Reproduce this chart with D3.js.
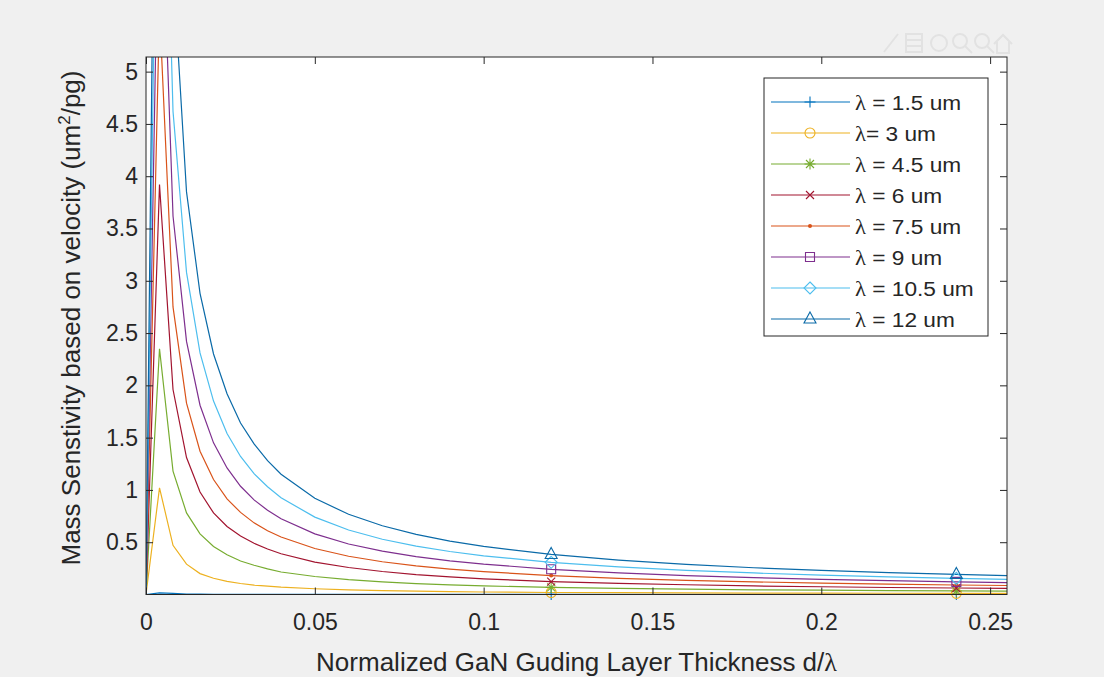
<!DOCTYPE html>
<html>
<head>
<meta charset="utf-8">
<script src="https://cdn.jsdelivr.net/npm/d3@7"></script>
<style>
  body { margin: 0; background: #f0f0f0; }
  svg { display: block; font-family: "Liberation Sans", Arial, sans-serif; }
</style>
</head>
<body>
<svg id="vis-sens" width="1104" height="677"></svg>
<script>

// normalized thickness d/lambda (x)
const thickness = [0, 0.004, 0.008, 0.012, 0.016, 0.02, 0.024, 0.028, 0.032, 0.036, 0.04,
                   0.05, 0.06, 0.07, 0.08, 0.09, 0.1, 0.12, 0.14, 0.16, 0.18, 0.2, 0.22, 0.24, 0.255];

// mass sensitivity (um^2/pg)
const sens_1_5  = [0, 0.015, 0.010, 0.004, 0.003, 0.002, 0.002, 0.002, 0.002, 0.001, 0.001,
                   0.001, 0.001, 0.001, 0.001, 0.001, 0.001, 0.001, 0.001, 0.001, 0.001, 0.001, 0.001, 0.001, 0.001];
const sens_3    = [0, 1.02, 0.47, 0.29, 0.20, 0.155, 0.125, 0.105, 0.09, 0.08, 0.07,
                   0.055, 0.045, 0.038, 0.032, 0.028, 0.024, 0.019, 0.017, 0.015, 0.014, 0.013, 0.012, 0.011, 0.011];
const sens_4_5  = [0, 2.35, 1.18, 0.78, 0.58, 0.46, 0.38, 0.32, 0.28, 0.245, 0.215,
                   0.172, 0.142, 0.12, 0.104, 0.092, 0.082, 0.068, 0.058, 0.051, 0.045, 0.041, 0.037, 0.034, 0.032];
const sens_6    = [0, 3.92, 1.96, 1.31, 0.98, 0.78, 0.65, 0.56, 0.49, 0.435, 0.39,
                   0.31, 0.258, 0.22, 0.19, 0.168, 0.15, 0.124, 0.106, 0.093, 0.082, 0.074, 0.067, 0.062, 0.058];
const sens_7_5  = [0, 5.6, 2.75, 1.83, 1.37, 1.1, 0.915, 0.785, 0.685, 0.61, 0.55,
                   0.44, 0.366, 0.313, 0.274, 0.243, 0.218, 0.181, 0.155, 0.136, 0.121, 0.109, 0.099, 0.091, 0.086];
const sens_9    = [0, 7.3, 3.62, 2.42, 1.81, 1.45, 1.21, 1.035, 0.905, 0.805, 0.725,
                   0.58, 0.483, 0.414, 0.362, 0.322, 0.29, 0.241, 0.207, 0.181, 0.161, 0.145, 0.132, 0.121, 0.114];
const sens_10_5 = [0, 9.2, 4.62, 3.08, 2.31, 1.85, 1.54, 1.32, 1.155, 1.03, 0.925,
                   0.74, 0.617, 0.528, 0.462, 0.411, 0.37, 0.308, 0.264, 0.231, 0.206, 0.185, 0.168, 0.154, 0.145];
const sens_12   = [0, 11.5, 6.0, 3.85, 2.88, 2.3, 1.92, 1.64, 1.44, 1.28, 1.15,
                   0.92, 0.767, 0.657, 0.575, 0.511, 0.46, 0.383, 0.329, 0.288, 0.256, 0.23, 0.209, 0.192, 0.18];

const series = [sens_1_5, sens_3, sens_4_5, sens_6, sens_7_5, sens_9, sens_10_5, sens_12];

// legend text after the lambda glyph
const legendText = [' = 1.5 um', '= 3 um', ' = 4.5 um', ' = 6 um', ' = 7.5 um', ' = 9 um', ' = 10.5 um', ' = 12 um'];

const markerThickness = [0.12, 0.24];

const xTickValues = [0, 0.05, 0.1, 0.15, 0.2, 0.25];
const yTickValues = [0.5, 1, 1.5, 2, 2.5, 3, 3.5, 4, 4.5, 5];

const lineColors = ['#0072BD', '#EDB120', '#77AC30', '#A2142F', '#D95319', '#7E2F8E', '#4DBEEE', '#0a6aa8'];
const lineSymbols = ['plus', 'circle', 'star', 'cross', 'dot', 'square', 'diamond', 'triangle'];

const sens = {

    dims : {
        left : 146,
        right : 1007,
        top : 57,
        bottom : 594.5,
        ink : '#262626'
    },

    scales : {
        x : null,
        y : null
    },

    symbolPath : function(type, x, y) {
        const r = 5.5, q = 4;
        switch (type) {
            case 'plus':
                return `M${x - r},${y}H${x + r}M${x},${y - r}V${y + r}`;
            case 'cross':
                return `M${x - q},${y - q}L${x + q},${y + q}M${x - q},${y + q}L${x + q},${y - q}`;
            case 'star':
                return `M${x - r},${y}H${x + r}M${x},${y - r}V${y + r}` +
                       `M${x - q},${y - q}L${x + q},${y + q}M${x - q},${y + q}L${x + q},${y - q}`;
            case 'square':
                return `M${x - 4.5},${y - 4.5}h9v9h-9Z`;
            case 'diamond':
                return `M${x},${y - 6}L${x + 6},${y}L${x},${y + 6}L${x - 6},${y}Z`;
            case 'triangle':
                return `M${x},${y - 7}L${x + 6},${y + 4}L${x - 6},${y + 4}Z`;
        }
        return '';
    },

    drawSymbol : function(g, type, x, y, color) {
        if (type === 'circle') {
            g.append('circle').attr('cx', x).attr('cy', y).attr('r', 5)
                .attr('fill', 'none').attr('stroke', color).attr('stroke-width', 1.1);
        } else if (type === 'dot') {
            g.append('circle').attr('cx', x).attr('cy', y).attr('r', 2)
                .attr('fill', color);
        } else {
            g.append('path').attr('d', sens.symbolPath(type, x, y))
                .attr('fill', 'none').attr('stroke', color).attr('stroke-width', 1.1);
        }
    },

    render : {

        frame : function(svg) {
            const d = sens.dims;
            svg.append('rect').attr('width', 1104).attr('height', 677).attr('fill', '#f0f0f0');
            svg.append('rect')
                .attr('x', d.left).attr('y', d.top)
                .attr('width', d.right - d.left).attr('height', d.bottom - d.top)
                .attr('fill', 'white');
            svg.append('defs').append('clipPath').attr('id', 'plot-clip')
                .append('rect')
                .attr('x', d.left).attr('y', d.top)
                .attr('width', d.right - d.left).attr('height', d.bottom - d.top);
        },

        toolbar : function(svg) {
            // faint axes toolbar, top right
            const g = svg.append('g').attr('fill', 'none').attr('stroke', '#e2e2e2').attr('stroke-width', 2);
            g.append('path').attr('d', 'M884,52L898,34');
            g.append('rect').attr('x', 906).attr('y', 34).attr('width', 16).attr('height', 18);
            g.append('path').attr('d', 'M906,40H922M906,46H922');
            g.append('circle').attr('cx', 939).attr('cy', 43).attr('r', 8);
            g.append('circle').attr('cx', 960).attr('cy', 41).attr('r', 7);
            g.append('path').attr('d', 'M965,46L972,53');
            g.append('circle').attr('cx', 982).attr('cy', 41).attr('r', 7);
            g.append('path').attr('d', 'M987,46L994,53');
            g.append('path').attr('d', 'M994,44L1003,35L1012,44M997,42V53H1009V42');
        },

        lines : function(svg) {
            const sx = sens.scales.x, sy = sens.scales.y;
            const line = d3.line()
                .x((v, i) => sx(thickness[i]))
                .y(v => sy(v));

            svg.append('g')
                .attr('clip-path', 'url(#plot-clip)')
                .selectAll('path')
                .data(series)
                .join('path')
                .attr('fill', 'none')
                .attr('stroke', (s, i) => lineColors[i])
                .attr('stroke-width', 1.2)
                .attr('d', line);
        },

        markers : function(svg) {
            const sx = sens.scales.x, sy = sens.scales.y;
            const g = svg.append('g');
            series.forEach((s, i) => {
                markerThickness.forEach(t => {
                    const k = thickness.indexOf(t);
                    sens.drawSymbol(g, lineSymbols[i], sx(t), sy(s[k]), lineColors[i]);
                });
            });
        },

        axes : function(svg) {
            const d = sens.dims;
            const sx = sens.scales.x, sy = sens.scales.y;
            const fmt = v => String(v);

            const ax = svg.append('g').attr('transform', `translate(0,${d.bottom})`)
                .call(d3.axisBottom(sx).tickValues(xTickValues).tickFormat(fmt)
                    .tickSizeInner(-7).tickSizeOuter(0).tickPadding(19));
            const axTop = svg.append('g').attr('transform', `translate(0,${d.top})`)
                .call(d3.axisTop(sx).tickValues(xTickValues).tickFormat('')
                    .tickSizeInner(-7).tickSizeOuter(0));
            const ay = svg.append('g').attr('transform', `translate(${d.left},0)`)
                .call(d3.axisLeft(sy).tickValues(yTickValues).tickFormat(fmt)
                    .tickSizeInner(-7).tickSizeOuter(0).tickPadding(8));
            const ayRight = svg.append('g').attr('transform', `translate(${d.right},0)`)
                .call(d3.axisRight(sy).tickValues(yTickValues).tickFormat('')
                    .tickSizeInner(-7).tickSizeOuter(0));

            [ax, axTop, ay, ayRight].forEach(a => {
                a.select('.domain').remove();
                a.selectAll('line').attr('stroke', d.ink);
                a.selectAll('text')
                    .attr('fill', d.ink)
                    .attr('font-size', 23)
                    .attr('font-family', '"Liberation Sans", Arial, sans-serif');
            });

            svg.append('rect')
                .attr('x', d.left).attr('y', d.top)
                .attr('width', d.right - d.left).attr('height', d.bottom - d.top)
                .attr('fill', 'none').attr('stroke', d.ink).attr('stroke-width', 1);
        },

        labels : function(svg) {
            const d = sens.dims;

            const xl = svg.append('text')
                .attr('x', (d.left + d.right) / 2).attr('y', 671)
                .attr('text-anchor', 'middle')
                .attr('font-size', 26).attr('fill', d.ink);
            xl.append('tspan').text('Normalized GaN Guding Layer Thickness d/');
            xl.append('tspan').attr('font-family', '"Liberation Serif", serif').text('λ');

            const yl = svg.append('text')
                .attr('transform', `translate(80,318) rotate(-90)`)
                .attr('text-anchor', 'middle')
                .attr('font-size', 26).attr('fill', d.ink);
            yl.append('tspan').text('Mass Senstivity based on velocity (um');
            yl.append('tspan').attr('font-size', 17).attr('dy', -10).text('2');
            yl.append('tspan').attr('dy', 10).text('/pg)');
        },

        legend : function(svg) {
            const d = sens.dims;
            const box = { x : 764, y : 78, w : 224, h : 258, row : 31 };
            const g = svg.append('g');

            g.append('rect')
                .attr('x', box.x).attr('y', box.y).attr('width', box.w).attr('height', box.h)
                .attr('fill', 'white').attr('stroke', d.ink).attr('stroke-width', 1);

            legendText.forEach((txt, i) => {
                const cy = box.y + 24 + i * box.row;
                g.append('line')
                    .attr('x1', box.x + 7).attr('x2', box.x + 86)
                    .attr('y1', cy).attr('y2', cy)
                    .attr('stroke', lineColors[i]).attr('stroke-width', 1.2);
                sens.drawSymbol(g, lineSymbols[i], box.x + 46, cy, lineColors[i]);

                const t = g.append('text')
                    .attr('transform', `translate(${box.x + 91},${cy + 7.5}) scale(1.08,1)`)
                    .attr('font-size', 21).attr('fill', d.ink);
                t.append('tspan').attr('font-family', '"Liberation Serif", serif').text('λ');
                t.append('tspan').text(txt);
            });
        }
    },

    ctrl : {

        init : function() {
            const d = sens.dims;
            sens.scales.x = d3.scaleLinear().domain([0, 0.255]).range([d.left, d.right]);
            sens.scales.y = d3.scaleLinear().domain([0, 5.14]).range([d.bottom, d.top]);

            const svg = d3.select('svg#vis-sens');

            sens.render.frame(svg);
            sens.render.toolbar(svg);
            sens.render.lines(svg);
            sens.render.markers(svg);
            sens.render.axes(svg);
            sens.render.labels(svg);
            sens.render.legend(svg);
        }
    }
};

sens.ctrl.init();
</script>
</body>
</html>
